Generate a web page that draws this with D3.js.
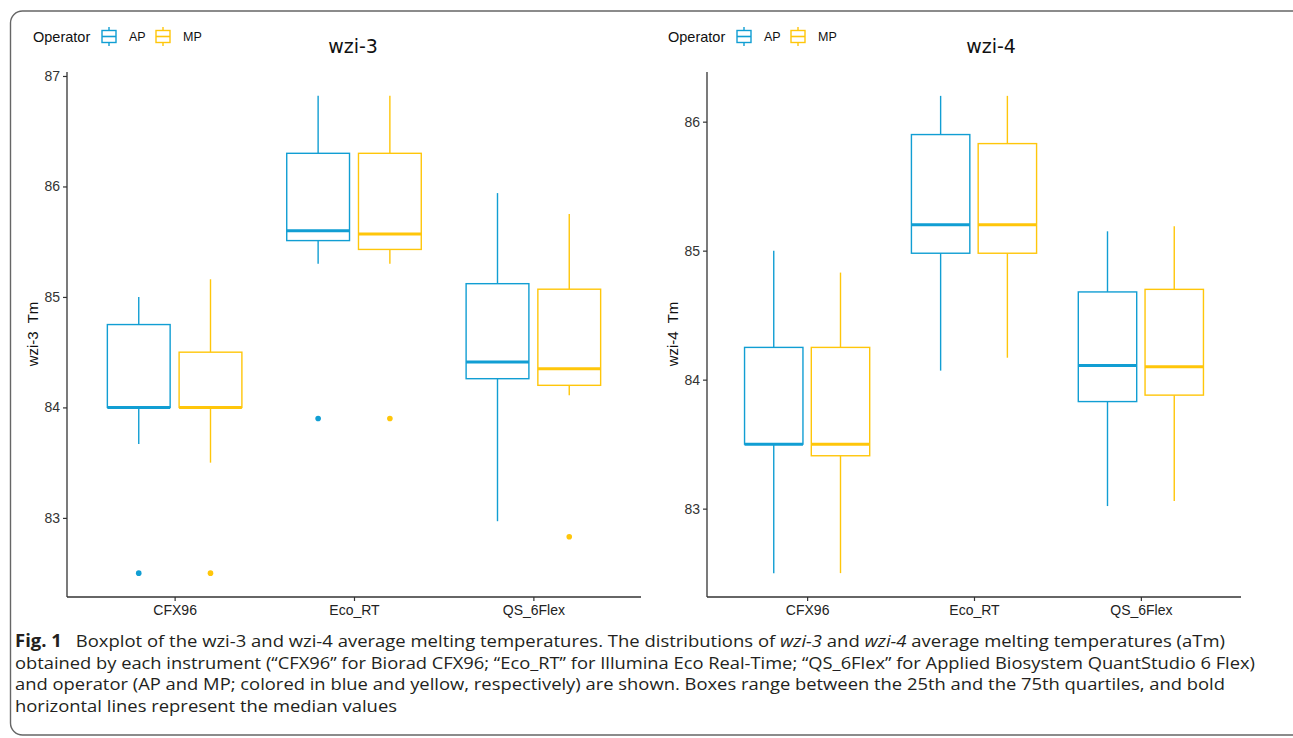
<!DOCTYPE html>
<html><head><meta charset="utf-8">
<script src="https://cdn.jsdelivr.net/npm/d3@7"></script>
<style>
html,body{margin:0;padding:0;background:#fff;}
svg{display:block;}
</style></head>
<body>
<svg id="chart" width="1293" height="738"></svg>
<script>
// ---------- data ----------
const instruments = ["CFX96", "Eco_RT", "QS_6Flex"];
const operators = ["AP", "MP"];
const operatorColors = ["#119ED3", "#FFC60A"];
// stats per instrument: [lowerWhisker, Q1, median, Q3, upperWhisker]
const wzi3_AP = [[83.67, 84.0, 84.0, 84.75, 85.0], [85.30, 85.51, 85.60, 86.30, 86.82], [82.97, 84.26, 84.41, 85.12, 85.94]];
const wzi3_MP = [[83.50, 84.0, 84.0, 84.50, 85.16], [85.30, 85.43, 85.57, 86.30, 86.82], [84.11, 84.20, 84.35, 85.07, 85.75]];
const wzi3_AP_out = [[82.5], [83.9], []];
const wzi3_MP_out = [[82.5], [83.9], [82.83]];
const wzi4_AP = [[82.5, 83.5, 83.5, 84.25, 85.0], [84.07, 84.98, 85.2, 85.90, 86.2], [83.02, 83.83, 84.11, 84.68, 85.15]];
const wzi4_MP = [[82.5, 83.41, 83.5, 84.25, 84.83], [84.17, 84.98, 85.2, 85.83, 86.2], [83.06, 83.88, 84.10, 84.70, 85.19]];
const wzi4_AP_out = [[], [], []];
const wzi4_MP_out = [[], [], []];
const wzi3_ticks = [83, 84, 85, 86, 87];
const wzi4_ticks = [83, 84, 85, 86];
const captionLines = [
  [{t:"Fig. 1", b:true}, {t:"\u2002 Boxplot of the wzi-3 and wzi-4 average melting temperatures. The distributions of "}, {t:"wzi-3", i:true}, {t:" and "}, {t:"wzi-4", i:true}, {t:" average melting temperatures (aTm)"}],
  [{t:"obtained by each instrument (\u201cCFX96\u201d for Biorad CFX96; \u201cEco_RT\u201d for Illumina Eco Real-Time; \u201cQS_6Flex\u201d for Applied Biosystem QuantStudio 6 Flex)"}],
  [{t:"and operator (AP and MP; colored in blue and yellow, respectively) are shown. Boxes range between the 25th and the 75th quartiles, and bold"}],
  [{t:"horizontal lines represent the median values"}]
];
const captionWidths = [1210, 1240, 1210, 382];

const panels = [
  {title:"wzi-3", ylab:"wzi-3  Tm", stats:[wzi3_AP, wzi3_MP], outs:[wzi3_AP_out, wzi3_MP_out], ticks:wzi3_ticks,
   x0:67, x1:641, titleX:353, legendX:33, ylabX:33},
  {title:"wzi-4", ylab:"wzi-4  Tm", stats:[wzi4_AP, wzi4_MP], outs:[wzi4_AP_out, wzi4_MP_out], ticks:wzi4_ticks,
   x0:707, x1:1241, titleX:991, legendX:668, ylabX:673}
];

const svg = d3.select("#chart");
const yTop = 72, yBot = 597;
const axisColor = "#333";
const fontSans = "'Liberation Sans', Arial, sans-serif";

// frame
svg.append("rect").attr("x", 10.5).attr("y", 11).attr("width", 1296).attr("height", 724)
  .attr("rx", 12).attr("fill", "none").attr("stroke", "#666").attr("stroke-width", 1.4);

panels.forEach(p => {
  const g = svg.append("g");
  const all = [];
  p.stats.forEach(s => s.forEach(r => all.push(...r)));
  p.outs.forEach(s => s.forEach(r => all.push(...r)));
  const mn = d3.min(all), mx = d3.max(all), pad = (mx - mn) * 0.05;
  const y = d3.scaleLinear().domain([mn - pad, mx + pad]).range([yBot, yTop]);
  const x = d3.scalePoint().domain(instruments).range([p.x0, p.x1]).padding(0.6);
  const step = x.step();
  const bw = step * 0.35, off = step * 0.2;

  // boxes
  operators.forEach((op, oi) => {
    const col = operatorColors[oi];
    instruments.forEach((ins, ii) => {
      const [lw, q1, med, q3, uw] = p.stats[oi][ii];
      const cx = x(ins) + (oi === 0 ? -off : off);
      g.append("line").attr("x1", cx).attr("x2", cx).attr("y1", y(uw)).attr("y2", y(q3))
        .attr("stroke", col).attr("stroke-width", 1.4);
      g.append("line").attr("x1", cx).attr("x2", cx).attr("y1", y(q1)).attr("y2", y(lw))
        .attr("stroke", col).attr("stroke-width", 1.4);
      g.append("rect").attr("x", cx - bw / 2).attr("y", y(q3)).attr("width", bw)
        .attr("height", Math.max(0, y(q1) - y(q3))).attr("fill", "none")
        .attr("stroke", col).attr("stroke-width", 1.4);
      g.append("line").attr("x1", cx - bw / 2).attr("x2", cx + bw / 2).attr("y1", y(med)).attr("y2", y(med))
        .attr("stroke", col).attr("stroke-width", 3);
      p.outs[oi][ii].forEach(v => {
        g.append("circle").attr("cx", cx).attr("cy", y(v)).attr("r", 2.8).attr("fill", col);
      });
    });
  });

  // y axis
  const ya = g.append("g").attr("transform", `translate(${p.x0},0)`)
    .call(d3.axisLeft(y).tickValues(p.ticks).tickSize(4).tickPadding(3).tickFormat(d3.format("d")));
  ya.select(".domain").attr("stroke", axisColor).attr("stroke-width", 1.3).attr("d", `M0,${yTop}V${yBot}`);
  ya.selectAll(".tick line").attr("stroke", axisColor).attr("stroke-width", 1.2);
  ya.selectAll("text").attr("fill", "#333").style("font-family", fontSans).style("font-size", "14px");

  // x axis
  const xa = g.append("g").attr("transform", `translate(0,${yBot})`)
    .call(d3.axisBottom(x).tickSize(4).tickPadding(4));
  xa.select(".domain").attr("stroke", axisColor).attr("stroke-width", 1.3).attr("d", `M${p.x0},0H${p.x1}`);
  xa.selectAll(".tick line").attr("stroke", axisColor).attr("stroke-width", 1.2);
  xa.selectAll("text").attr("fill", "#222").style("font-family", fontSans).style("font-size", "14px");

  // title
  g.append("text").attr("x", p.titleX).attr("y", 53).attr("text-anchor", "middle")
    .style("font-family", "'DejaVu Sans', sans-serif").style("font-size", "19px").attr("fill", "#111").text(p.title);

  // y label
  g.append("text").attr("transform", `translate(${p.ylabX + 5},${334}) rotate(-90)`)
    .attr("text-anchor", "middle").style("font-family", fontSans).style("font-size", "15px")
    .style("white-space", "pre").attr("xml:space", "preserve")
    .attr("fill", "#111").text(p.ylab);

  // legend
  const lg = g.append("g").attr("transform", `translate(${p.legendX},0)`);
  lg.append("text").attr("x", 0).attr("y", 42).style("font-family", fontSans).style("font-size", "14.5px")
    .attr("fill", "#111").text("Operator");
  operators.forEach((op, oi) => {
    const kx = 68 + oi * 54;
    const col = operatorColors[oi];
    const kg = lg.append("g").attr("transform", `translate(${kx},0)`);
    kg.append("line").attr("x1", 8).attr("x2", 8).attr("y1", 27).attr("y2", 46).attr("stroke", col).attr("stroke-width", 1.4);
    kg.append("rect").attr("x", 1).attr("y", 30.5).attr("width", 14).attr("height", 12).attr("fill", "#fff")
      .attr("stroke", col).attr("stroke-width", 1.4);
    kg.append("line").attr("x1", 1).attr("x2", 15).attr("y1", 36.5).attr("y2", 36.5).attr("stroke", col).attr("stroke-width", 1.6);
    kg.append("text").attr("x", 28).attr("y", 41).style("font-family", fontSans).style("font-size", "12.5px")
      .attr("fill", "#111").text(op);
  });
});

// caption
const capY = [647, 668.5, 690, 711.5];
captionLines.forEach((line, li) => {
  const t = svg.append("text").attr("x", 15).attr("y", capY[li])
    .style("font-family", "'Open Sans', 'Noto Sans', sans-serif").style("font-size", "17px")
    .attr("fill", "#231f20")
    .attr("textLength", captionWidths[li]).attr("lengthAdjust", "spacingAndGlyphs");
  line.forEach(seg => {
    const ts = t.append("tspan").text(seg.t);
    if (seg.b) ts.style("font-weight", "bold");
    if (seg.i) ts.style("font-style", "italic");
  });
});
</script>
</body></html>
